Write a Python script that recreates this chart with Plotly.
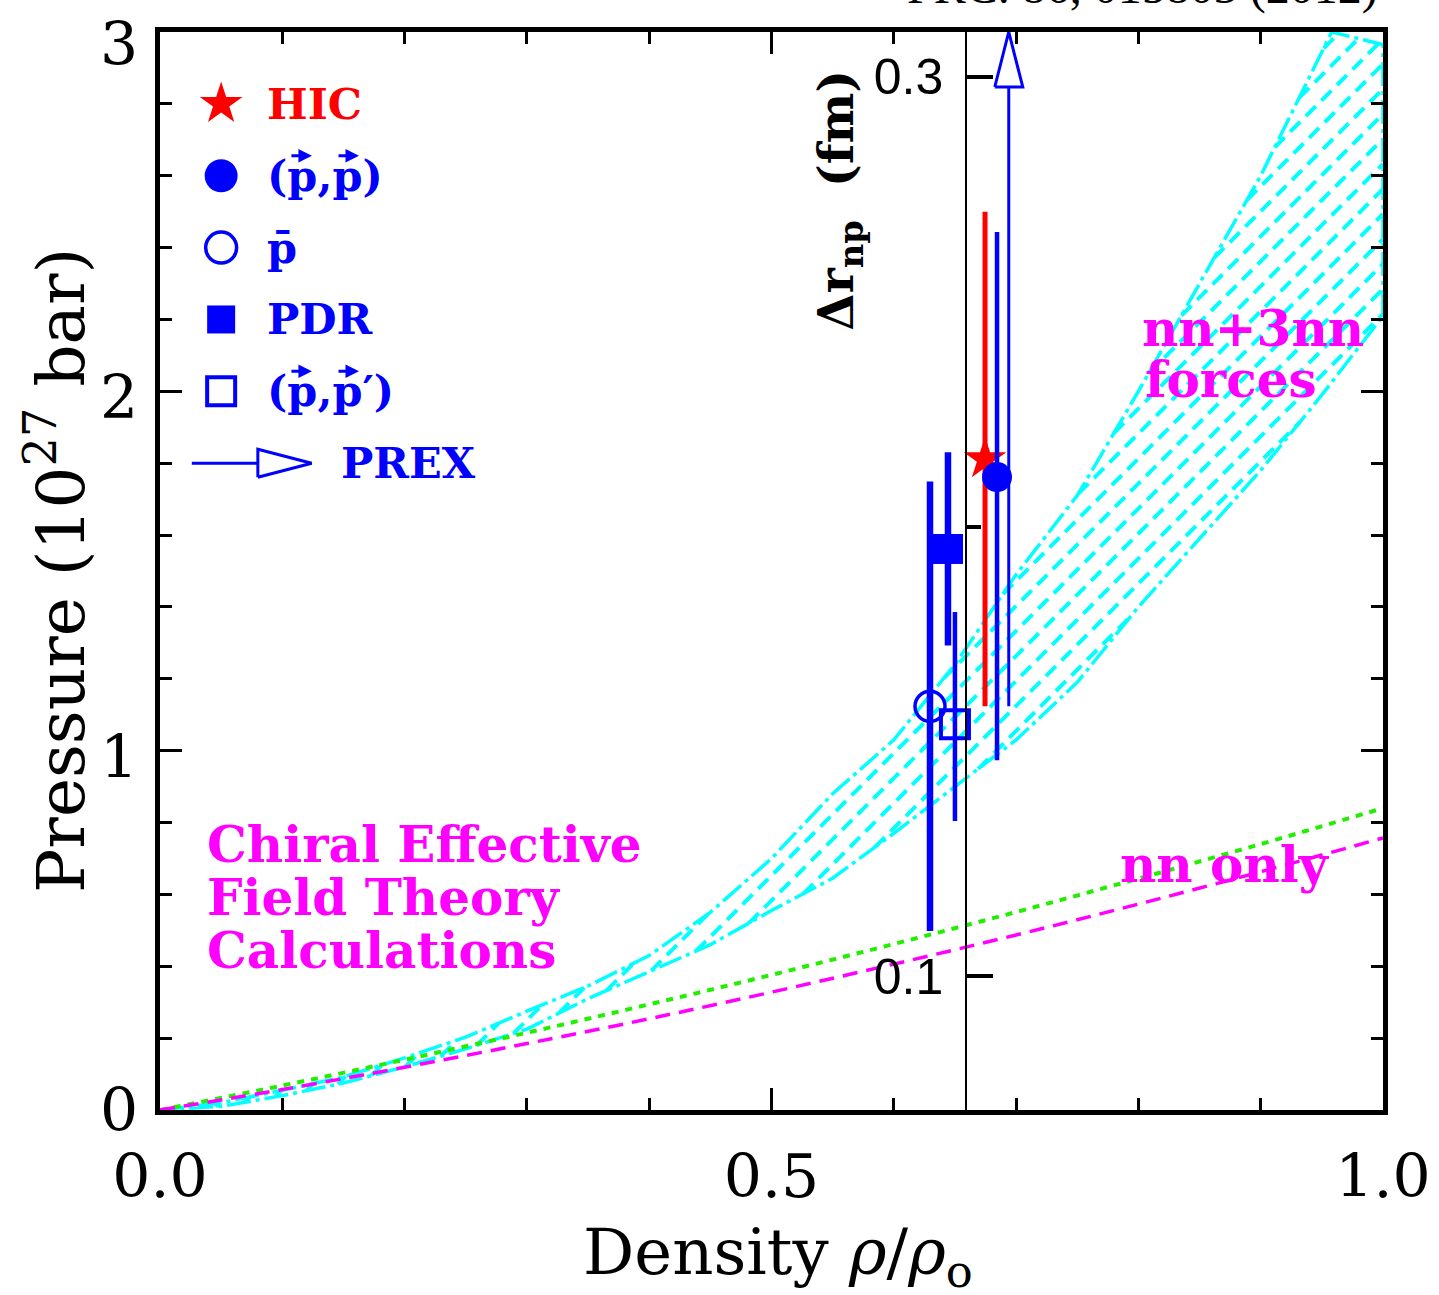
import numpy as np
import plotly.graph_objects as go

# ---------------- data ----------------
# Chiral EFT band (pressure in 1e27 bar vs rho/rho0): upper and lower edges
band_up_d = [0.0, 0.05, 0.10, 0.15, 0.20, 0.25, 0.30, 0.35, 0.40, 0.45, 0.50,
             0.55, 0.60, 0.65, 0.70, 0.75, 0.80, 0.85, 0.90, 0.958, 1.0]
band_up_p = [0.0, 0.020, 0.055, 0.092, 0.145, 0.203, 0.275, 0.345, 0.430, 0.550, 0.700,
             0.880, 1.030, 1.240, 1.490, 1.710, 2.000, 2.300, 2.600, 3.000, 2.965]
band_lo_d = [0.0, 0.05, 0.10, 0.15, 0.20, 0.25, 0.30, 0.35, 0.40, 0.45, 0.50,
             0.55, 0.60, 0.65, 0.70, 0.75, 0.80, 0.85, 0.90, 0.95, 1.0]
band_lo_p = [0.0, 0.010, 0.040, 0.075, 0.120, 0.170, 0.225, 0.310, 0.385, 0.460, 0.555,
             0.645, 0.770, 0.900, 1.030, 1.190, 1.400, 1.590, 1.780, 1.990, 2.210]

# two smooth EOS curves
curve_d = [0.0, 0.1, 0.2, 0.3, 0.4, 0.5, 0.6, 0.7, 0.8, 0.9, 1.0]
green_p = [0.0, 0.068, 0.140, 0.215, 0.294, 0.376, 0.462, 0.551, 0.644, 0.740, 0.840]
nn_only_p = [0.0, 0.057, 0.119, 0.185, 0.254, 0.328, 0.406, 0.487, 0.573, 0.663, 0.757]

# neutron-skin thickness of 208Pb (fm); points spread in density for readability
hic_x, hic_dr, hic_hi, hic_lo = 0.6746, 0.215, 0.270, 0.160
pp_x, pp_dr, pp_hi, pp_lo = 0.6844, 0.211, 0.2655, 0.148
pbar_x, pbar_dr, pbar_hi, pbar_lo = 0.6296, 0.160, 0.210, 0.110
pdr_x, pdr_dr, pdr_hi, pdr_lo = 0.6443, 0.195, 0.2165, 0.1735
ppp_x, ppp_dr, ppp_hi, ppp_lo = 0.6500, 0.156, 0.181, 0.1345
prex_x, prex_lo = 0.694, 0.160

# axis ticks
x_ticks = [0.0, 0.5, 1.0]
x_ticktext = ["0.0", "0.5", "1.0"]
p_ticks = [0, 1, 2, 3]
p_ticktext = ["0", "1", "2", "3"]

# secondary (delta r_np) axis placement and range
dr_axis_pos = 0.659
dr_range = [0.0702, 0.3100]

# ---------------- style ----------------
SERIF = "DejaVu Serif"
BLUE, RED, MAG, CYAN, GREEN = "#0000FF", "#FF0000", "#FF00FF", "#00FFFF", "#22EE00"
W, H = 1439, 1295
ML, MR, MT, MB = 160, 56, 32, 185
PW, PH = W - ML - MR, H - MT - MB
px_d = 1.0 / PW            # density units per pixel
px_p = 3.0 / PH            # pressure units per pixel
px_dr = (dr_range[1] - dr_range[0]) / PH

fig = go.Figure()

# ---------------- hatched chiral EFT band ----------------
dd = np.linspace(0, 1, 4001)
up = np.interp(dd, band_up_d, band_up_p)
lo = np.interp(dd, band_lo_d, band_lo_p)
k = (1.0 / px_d) / (1.0 / px_p)   # 45 degree hatch lines on screen
hx, hy = [], []
step = 25 * px_d
for c in np.arange(-1.0, 1.0, step):
    p = k * (dd - c)
    inside = (p >= lo) & (p <= up)
    edges = np.flatnonzero(np.diff(np.concatenate(([0], inside.astype(int), [0]))))
    for s, e in zip(edges[::2], edges[1::2]):
        if e - 1 > s:
            hx += [dd[s], dd[e - 1], None]
            hy += [p[s], p[e - 1], None]
fig.add_trace(go.Scatter(x=hx, y=hy, mode="lines", hoverinfo="skip",
                         line=dict(color=CYAN, width=4, dash="14px,8px")))

outline_x = list(band_up_d) + [band_lo_d[-1]] + list(band_lo_d[::-1])
outline_y = list(band_up_p) + [band_lo_p[-1]] + list(band_lo_p[::-1])
fig.add_trace(go.Scatter(x=outline_x, y=outline_y, mode="lines", hoverinfo="skip",
                         line=dict(color=CYAN, width=3.5, dash="24px,5px,4px,5px")))

# ---------------- EOS curves ----------------
fig.add_trace(go.Scatter(x=curve_d, y=green_p, mode="lines", line_shape="spline",
                         line=dict(color=GREEN, width=4, dash="7px,7px")))
fig.add_trace(go.Scatter(x=curve_d, y=nn_only_p, mode="lines", line_shape="spline",
                         line=dict(color=MAG, width=3.5, dash="15px,9px")))

# ---------------- neutron skin measurements (on delta r axis) ----------------
def meas(x, y, hi, lo, symbol, color, size, bar_w, line_w=0):
    fig.add_trace(go.Scatter(
        x=[x], y=[y], yaxis="y2", mode="markers",
        marker=dict(symbol=symbol, color=color, size=size,
                    line=dict(color=color, width=line_w)),
        error_y=dict(type="data", symmetric=False, array=[hi - y], arrayminus=[y - lo],
                     width=0, thickness=bar_w, color=color)))

meas(pbar_x, pbar_dr, pbar_hi, pbar_lo, "circle-open", BLUE, 30, 6.5, 3.5)
meas(pdr_x, pdr_dr, pdr_hi, pdr_lo, "square", BLUE, 30, 6.5)
meas(ppp_x, ppp_dr, ppp_hi, ppp_lo, "square-open", BLUE, 28, 4.5, 4)
meas(hic_x, hic_dr, hic_hi, hic_lo, "star", RED, 32, 5)
meas(pp_x, pp_dr, pp_hi, pp_lo, "circle", BLUE, 30, 4.5)

# PREX lower bound with open arrowhead reaching the top of the frame
head_len, head_hw = 55 * px_dr, 14 * px_d
tip = dr_range[1]
fig.add_trace(go.Scatter(x=[prex_x, prex_x], y=[prex_lo, tip - head_len], yaxis="y2",
                         mode="lines", line=dict(color=BLUE, width=3)))
fig.add_trace(go.Scatter(x=[prex_x - head_hw, prex_x + head_hw, prex_x, prex_x - head_hw],
                         y=[tip - head_len, tip - head_len, tip, tip - head_len],
                         yaxis="y2", mode="lines", fill="toself", fillcolor="white",
                         line=dict(color=BLUE, width=3)))

# ---------------- legend (drawn in data space) ----------------
LEG_FONT = 43
leg_x, leg_tx = 0.05, 0.086
leg_rows = [2.8, 2.6, 2.4, 2.2, 2.0, 1.8]
leg_syms = [("star", RED, 32, 0), ("circle", BLUE, 33, 0), ("circle-open", BLUE, 31, 3.5),
            ("square", BLUE, 28, 0), ("square-open", BLUE, 28, 4)]
leg_text = ["HIC", "(p,p)", "p\u0304", "PDR", "(p,p\u2032)"]
for (sym, col, sz, lw), yy, txt in zip(leg_syms, leg_rows, leg_text):
    fig.add_trace(go.Scatter(x=[leg_x], y=[yy], mode="markers",
                             marker=dict(symbol=sym, color=col, size=sz,
                                         line=dict(color=col, width=lw))))
    fig.add_annotation(x=leg_tx, y=yy, text="<b>%s</b>" % txt, showarrow=False,
                       xanchor="left", yanchor="middle",
                       font=dict(family=SERIF, size=LEG_FONT, color=col))

# polarisation arrows over the "p" of the (p,p) and (p,p') keys
p_centres = [0.473 + 0.358, 0.473 + 0.716 + 0.379 + 0.358]   # in em from text start
for yy in (leg_rows[1], leg_rows[4]):
    for cem in p_centres:
        xc = leg_tx + cem * LEG_FONT * px_d
        fig.add_annotation(x=xc + 11 * px_d, y=yy + 20 * px_p, ax=-22, ay=0, text="",
                           showarrow=True, arrowhead=2, arrowsize=0.9, arrowwidth=3,
                           arrowcolor=BLUE)

# PREX key: horizontal arrow with open head
ay = leg_rows[5]
a0, a1, a2 = 0.026, 0.080, 0.124
fig.add_trace(go.Scatter(x=[a0, a1], y=[ay, ay], mode="lines", line=dict(color=BLUE, width=3)))
fig.add_trace(go.Scatter(x=[a1, a1, a2, a1], y=[ay - 14 * px_p, ay + 14 * px_p, ay, ay - 14 * px_p],
                         mode="lines", line=dict(color=BLUE, width=3)))
fig.add_annotation(x=0.146, y=ay, text="<b>PREX</b>", showarrow=False, xanchor="left",
                   yanchor="middle", font=dict(family=SERIF, size=LEG_FONT, color=BLUE))

# ---------------- labels ----------------
def label(x, y, txt, size=50, color=MAG):
    fig.add_annotation(x=x, y=y, text="<b>%s</b>" % txt, showarrow=False, xanchor="left",
                       yanchor="middle", font=dict(family=SERIF, size=size, color=color))

label(0.037, 0.738, "Chiral Effective")
label(0.037, 0.590, "Field Theory")
label(0.037, 0.443, "Calculations")
label(0.801, 2.176, "nn+3nn")
label(0.804, 2.032, "forces")
label(0.783, 0.682, "nn only")

fig.add_annotation(x=0.556, y=2.533, text="<b>\u0394r<sub>np</sub>\u00a0\u00a0(fm)</b>",
                   textangle=-90, showarrow=False, font=dict(family=SERIF, size=48, color="black"))

# pressure tick numbers; the top one sits a little below its tick to stay on the page
for val, txt in zip(p_ticks, p_ticktext):
    shift = -12 if val == max(p_ticks) else (0 if val == min(p_ticks) else -6)
    fig.add_annotation(xref="paper", x=-0.0164, y=val, text=txt, showarrow=False,
                       xanchor="right", yanchor="middle", yshift=shift,
                       font=dict(family=SERIF, size=60, color="black"))

fig.add_annotation(xref="paper", yref="paper", x=-0.085, y=0.5, xanchor="center",
                   yanchor="middle", textangle=-90,
                   text="Pressure (10<sup>27</sup> bar)", showarrow=False,
                   font=dict(family=SERIF, size=66, color="black"))
fig.add_annotation(xref="paper", yref="paper", x=0.505, y=-0.136, xanchor="center",
                   yanchor="middle",
                   text="Density <i>\u03c1</i>/<i>\u03c1</i><sub>o</sub>", showarrow=False,
                   font=dict(family=SERIF, size=64, color="black"))
fig.add_annotation(xref="paper", yref="paper", x=0.9975, y=1.015, xanchor="right",
                   yanchor="bottom", text="PRC. 86, 015803 (2012)", showarrow=False,
                   font=dict(family="Liberation Serif", size=48, color="black"))

# ---------------- axes ----------------
axis_common = dict(showline=True, linecolor="black", linewidth=5, mirror="ticks",
                   ticks="inside", tickcolor="black", tickwidth=3, ticklen=22,
                   showgrid=False, zeroline=False, automargin=False,
                   tickfont=dict(family=SERIF, size=60, color="black"))
fig.update_layout(
    width=W, height=H, margin=dict(l=ML, r=MR, t=MT, b=MB, autoexpand=False),
    paper_bgcolor="white", plot_bgcolor="white", showlegend=False,
    xaxis=dict(range=[0, 1], tickmode="array", tickvals=x_ticks,
               ticktext=x_ticktext, ticklabelstandoff=10,
               minor=dict(tickmode="array", tickvals=[0.1, 0.2, 0.3, 0.4, 0.6, 0.7, 0.8, 0.9],
                          ticklen=12, tickwidth=3, ticks="inside", tickcolor="black"),
               **axis_common),
    yaxis=dict(range=[0, 3], tickmode="array", tickvals=p_ticks, showticklabels=False,
               minor=dict(tickmode="array",
                          tickvals=[0.2, 0.4, 0.6, 0.8, 1.2, 1.4, 1.6, 1.8,
                                    2.2, 2.4, 2.6, 2.8],
                          ticklen=12, tickwidth=3, ticks="inside", tickcolor="black"),
               **axis_common),
    yaxis2=dict(overlaying="y", anchor="free", position=dr_axis_pos, side="left",
                range=dr_range, tick0=0.1, dtick=0.2, tickformat=".1f",
                showline=True, linecolor="black", linewidth=1.5, automargin=False,
                ticks="inside", ticklen=26, tickwidth=4, tickcolor="black",
                ticklabelstandoff=12,
                minor=dict(tick0=0.1, dtick=0.1, ticklen=14, tickwidth=4, ticks="inside",
                           tickcolor="black"),
                showgrid=False, zeroline=False,
                tickfont=dict(family="Liberation Sans", size=50, color="black")),
)

fig.write_html("out.html")
